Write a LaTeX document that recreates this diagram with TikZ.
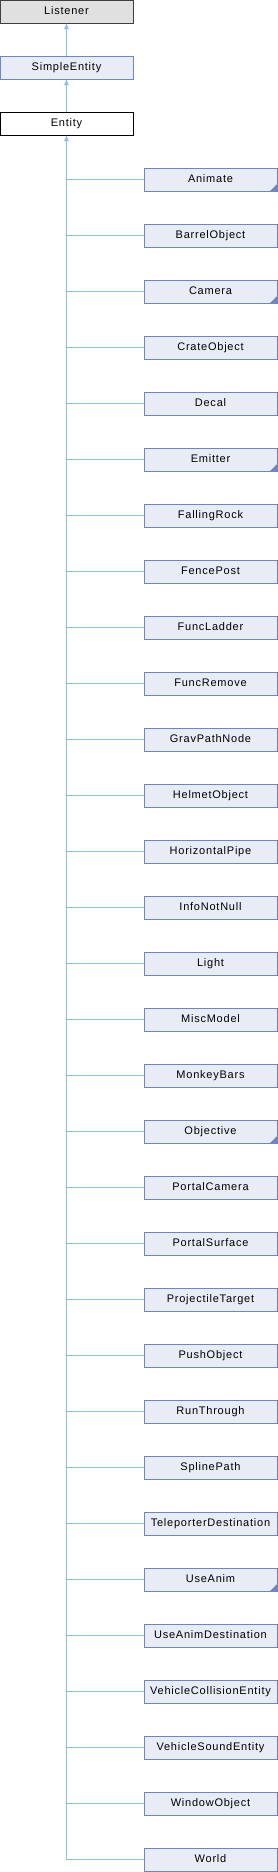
\documentclass[tikz,border=0pt]{standalone}
\usepackage{fontspec}
\newfontfamily\dxfont[LetterSpace=7]{Liberation Sans}
\usetikzlibrary{arrows.meta, calc}
\definecolor{edgecol}{RGB}{135,192,235}
\definecolor{boxfill}{RGB}{232,236,245}
\definecolor{boxline}{RGB}{110,135,195}
\definecolor{extfill}{RGB}{224,224,224}
\definecolor{extline}{RGB}{64,64,64}
\tikzset{
  classbox/.style={draw=boxline, fill=boxfill, line width=1pt,
    minimum width=133pt, minimum height=23pt, inner sep=0pt, outer sep=0pt,
    text height=8pt, text depth=2pt, font=\dxfont\fontsize{11}{13}\selectfont},
  extbox/.style={classbox, draw=extline, fill=extfill},
  curbox/.style={classbox, draw=black, fill=white},
  inherit/.style={draw=edgecol, line width=1pt, {Latex[length=6pt,width=5pt]}-},
  branch/.style={draw=edgecol, line width=1pt}
}

\begin{document}
\begin{tikzpicture}[x=1pt, y=-1pt]

  \useasboundingbox (0,0) rectangle (278,1872);

  % --- base classes --------------------------------------------------------
  \node[extbox] (listener) at (66.5,11.5) {Listener};
  \node[classbox] (simple) at (66.5,67.5) {SimpleEntity};
  \node[curbox] (entity) at (66.5,123.5) {Entity};

  \draw[inherit] (listener.south) -- (simple.north);
  \draw[inherit] (simple.south) -- (entity.north);

  % --- derived classes, the flag marks ones that have subclasses too -------
  \foreach \name/\sub [count=\i from 0] in {
      Animate/1, BarrelObject/0, Camera/1, CrateObject/0, Decal/0,
      Emitter/1, FallingRock/0, FencePost/0, FuncLadder/0, FuncRemove/0,
      GravPathNode/0, HelmetObject/0, HorizontalPipe/0, InfoNotNull/0,
      Light/0, MiscModel/0, MonkeyBars/0, Objective/1, PortalCamera/0,
      PortalSurface/0, ProjectileTarget/0, PushObject/0, RunThrough/0,
      SplinePath/0, TeleporterDestination/0, UseAnim/1,
      UseAnimDestination/0, VehicleCollisionEntity/0,
      VehicleSoundEntity/0, WindowObject/0, World/0} {
    \node[classbox] (c\i) at (210.5,{179.5+56*\i}) {\name};
    \ifnum\sub=1
      \fill[boxline] (c\i.south east) -- ++(-7,0) -- ++(7,-7) -- cycle;
    \fi
    \draw[branch] (entity.south |- c\i.west) -- (c\i.west);
  }

  % --- trunk up to Entity ---------------------------------------------------
  \draw[inherit] (entity.south) -- (entity.south |- c30.west);

\end{tikzpicture}
\end{document}
